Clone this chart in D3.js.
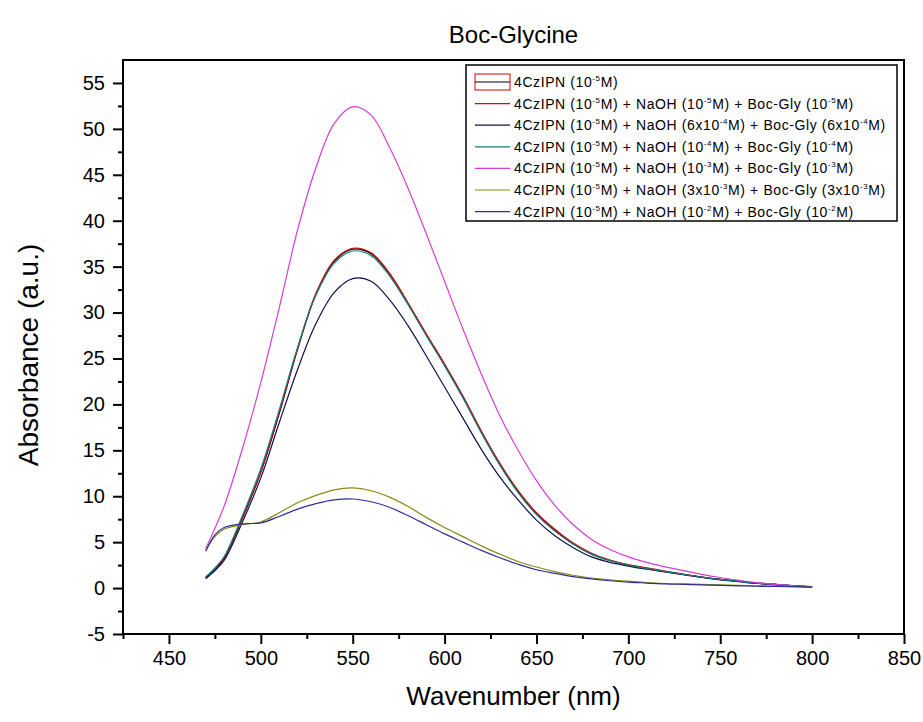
<!DOCTYPE html>
<html>
<head>
<meta charset="utf-8">
<script src="https://cdn.jsdelivr.net/npm/d3@7"></script>
<style>
  body { margin: 0; background: #fff; }
  text { font-family: "Liberation Sans", Arial, sans-serif; fill: #000; }
</style>
</head>
<body>
<div id="container"></div>
<script>
// wavelength (nm)
let wavelength = [470, 475, 480, 490, 500, 510, 520, 530, 540, 550, 560, 570, 580, 590, 600, 610, 620, 630,
  640, 650, 660, 670, 680, 690, 700, 710, 720, 730, 740, 750, 760, 770, 780, 790, 800]

let s1 = [1.1, 2.0, 3.2, 7.6, 12.6, 19.0, 26.0, 32.0, 35.6, 36.9, 36.4, 34.2, 31.0, 27.6, 24.3, 20.8, 17.0, 13.5,
  10.5, 8.1, 6.3, 4.8, 3.7, 3.0, 2.5, 2.15, 1.8, 1.5, 1.2, 0.95, 0.75, 0.55, 0.4, 0.25, 0.15]
let s2 = [1.2, 2.1, 3.3, 7.7, 12.7, 19.1, 26.1, 32.1, 35.7, 37.0, 36.5, 34.3, 31.1, 27.7, 24.4, 20.9, 17.1, 13.6,
  10.6, 8.2, 6.4, 4.9, 3.8, 3.05, 2.55, 2.2, 1.85, 1.5, 1.2, 0.95, 0.75, 0.55, 0.4, 0.25, 0.15]
let s3 = [1.0, 1.9, 3.0, 7.2, 12.0, 18.0, 23.8, 28.8, 32.2, 33.7, 33.4, 31.4, 28.6, 25.3, 21.9, 18.5, 15.1, 12.1,
  9.6, 7.4, 5.7, 4.4, 3.4, 2.8, 2.4, 2.05, 1.75, 1.45, 1.15, 0.9, 0.7, 0.5, 0.35, 0.25, 0.15]
let s4 = [1.2, 2.2, 3.4, 7.9, 13.0, 19.4, 26.2, 31.9, 35.4, 36.7, 36.2, 34.0, 30.9, 27.5, 24.2, 20.7, 16.9, 13.4,
  10.4, 8.0, 6.2, 4.8, 3.7, 3.0, 2.5, 2.15, 1.8, 1.5, 1.2, 0.95, 0.75, 0.55, 0.4, 0.25, 0.15]
let s5 = [4.3, 6.5, 8.9, 15.2, 22.4, 30.5, 39.0, 45.8, 50.6, 52.4, 51.5, 48.0, 43.6, 38.6, 33.4, 28.2, 23.3, 18.8,
  15.0, 11.7, 9.0, 6.9, 5.3, 4.2, 3.4, 2.8, 2.3, 1.9, 1.5, 1.15, 0.85, 0.6, 0.4, 0.25, 0.15]
let s6 = [4.1, 5.6, 6.4, 6.9, 7.2, 8.2, 9.3, 10.1, 10.7, 10.9, 10.6, 9.9, 8.9, 7.7, 6.6, 5.6, 4.6, 3.7,
  2.9, 2.3, 1.8, 1.4, 1.1, 0.9, 0.75, 0.6, 0.5, 0.45, 0.4, 0.35, 0.3, 0.25, 0.2, 0.15, 0.1]
let s7 = [4.0, 5.8, 6.6, 7.0, 7.1, 7.8, 8.6, 9.2, 9.6, 9.7, 9.4, 8.8, 7.9, 6.9, 5.9, 5.0, 4.1, 3.3,
  2.6, 2.0, 1.6, 1.25, 1.0, 0.8, 0.65, 0.55, 0.45, 0.4, 0.35, 0.3, 0.25, 0.2, 0.18, 0.15, 0.1]

let seriesNames = [
  '4CzIPN (10^{-5}M)',
  '4CzIPN (10^{-5}M) + NaOH (10^{-5}M) + Boc-Gly (10^{-5}M)',
  '4CzIPN (10^{-5}M) + NaOH (6x10^{-4}M) + Boc-Gly (6x10^{-4}M)',
  '4CzIPN (10^{-5}M) + NaOH (10^{-4}M) + Boc-Gly (10^{-4}M)',
  '4CzIPN (10^{-5}M) + NaOH (10^{-3}M) + Boc-Gly (10^{-3}M)',
  '4CzIPN (10^{-5}M) + NaOH (3x10^{-3}M) + Boc-Gly (3x10^{-3}M)',
  '4CzIPN (10^{-5}M) + NaOH (10^{-2}M) + Boc-Gly (10^{-2}M)'
]
let seriesValues = [s1, s2, s3, s4, s5, s6, s7]
let colors = ['#000000', '#e00000', '#10104a', '#108080', '#d63cd6', '#8a8a10', '#30309a']

let xTicks = [450, 500, 550, 600, 650, 700, 750, 800, 850]
let xMinor = [425, 475, 525, 575, 625, 675, 725, 775, 825]
let yTicks = [-5, 0, 5, 10, 15, 20, 25, 30, 35, 40, 45, 50, 55]
let yMinor = [-2.5, 2.5, 7.5, 12.5, 17.5, 22.5, 27.5, 32.5, 37.5, 42.5, 47.5, 52.5]

let width = 923,
  height = 722,
  plot = { left: 123, right: 904, top: 60, bottom: 634 }

let svg = d3.select('#container')
  .append('svg')
  .attr('width', width)
  .attr('height', height)

let scale_x = d3.scaleLinear().domain([425, 850]).range([plot.left, plot.right])
let scale_y = d3.scaleLinear().domain([-5, 57.5]).range([plot.bottom, plot.top])

// curves
let line = d3.line()
  .x(function (d) { return scale_x(d[0]) })
  .y(function (d) { return scale_y(d[1]) })
  .curve(d3.curveCatmullRom.alpha(0.5))

let curves = svg.append('g')
seriesValues.forEach(function (vals, i) {
  curves.append('path')
    .datum(wavelength.map(function (w, j) { return [w, vals[j]] }))
    .attr('d', line)
    .attr('fill', 'none')
    .attr('stroke', colors[i])
    .attr('stroke-width', 1.2)
})

// axes
let fmt = function (d) { return String(d) }
let x_axis = d3.axisBottom(scale_x).tickValues(xTicks).tickSize(10).tickPadding(7).tickFormat(fmt)
let x_minor = d3.axisBottom(scale_x).tickValues(xMinor).tickSize(5).tickFormat('')
let y_axis = d3.axisLeft(scale_y).tickValues(yTicks).tickSize(10).tickPadding(8).tickFormat(fmt)
let y_minor = d3.axisLeft(scale_y).tickValues(yMinor).tickSize(5).tickFormat('')

function styleAxis(g) {
  g.select('.domain').remove()
  g.selectAll('line').attr('stroke', '#000').attr('stroke-width', 2)
  g.selectAll('text').style('font-size', '20px').style('font-family', '"Liberation Sans", Arial, sans-serif')
}

svg.append('g').attr('transform', 'translate(0,' + plot.bottom + ')').call(x_axis).call(styleAxis)
svg.append('g').attr('transform', 'translate(0,' + plot.bottom + ')').call(x_minor).call(styleAxis)
svg.append('g').attr('transform', 'translate(' + plot.left + ',0)').call(y_axis).call(styleAxis)
svg.append('g').attr('transform', 'translate(' + plot.left + ',0)').call(y_minor).call(styleAxis)

// frame
svg.append('rect')
  .attr('x', plot.left)
  .attr('y', plot.top)
  .attr('width', plot.right - plot.left)
  .attr('height', plot.bottom - plot.top)
  .attr('fill', 'none')
  .attr('stroke', '#000')
  .attr('stroke-width', 2)

// titles
svg.append('text')
  .attr('x', (plot.left + plot.right) / 2)
  .attr('y', 43)
  .attr('text-anchor', 'middle')
  .style('font-size', '24px')
  .text('Boc-Glycine')

svg.append('text')
  .attr('x', (plot.left + plot.right) / 2)
  .attr('y', 705)
  .attr('text-anchor', 'middle')
  .style('font-size', '26px')
  .text('Wavenumber (nm)')

svg.append('text')
  .attr('transform', 'translate(38,' + ((plot.top + plot.bottom) / 2 + 8) + ') rotate(-90)')
  .attr('text-anchor', 'middle')
  .style('font-size', '28px')
  .text('Absorbance (a.u.)')

// legend
let legend = svg.append('g')
legend.append('rect')
  .attr('x', 466).attr('y', 65)
  .attr('width', 431).attr('height', 156)
  .attr('fill', '#fff')
  .attr('stroke', '#000')
  .attr('stroke-width', 1.5)

seriesNames.forEach(function (name, i) {
  let cy = 82 + i * 21.6
  if (i === 0) {
    legend.append('rect')
      .attr('x', 475).attr('y', cy - 8)
      .attr('width', 35).attr('height', 16)
      .attr('fill', 'none')
      .attr('stroke', '#e00000')
      .attr('stroke-width', 1)
  }
  legend.append('line')
    .attr('x1', 475).attr('x2', 510)
    .attr('y1', cy).attr('y2', cy)
    .attr('stroke', colors[i])
    .attr('stroke-width', 1.2)

  let t = legend.append('text')
    .attr('x', 514)
    .attr('y', cy + 5)
    .style('font-size', '14px')
    .style('letter-spacing', '0.6px')
  let parts = name.split(/\^\{([^}]*)\}/)
  parts.forEach(function (p, k) {
    if (k % 2 === 1) {
      t.append('tspan').attr('dy', -6).style('font-size', '8px').text(p)
    } else if (p.length) {
      t.append('tspan').attr('dy', k === 0 ? 0 : 6).text(p)
    }
  })
})
</script>
</body>
</html>
